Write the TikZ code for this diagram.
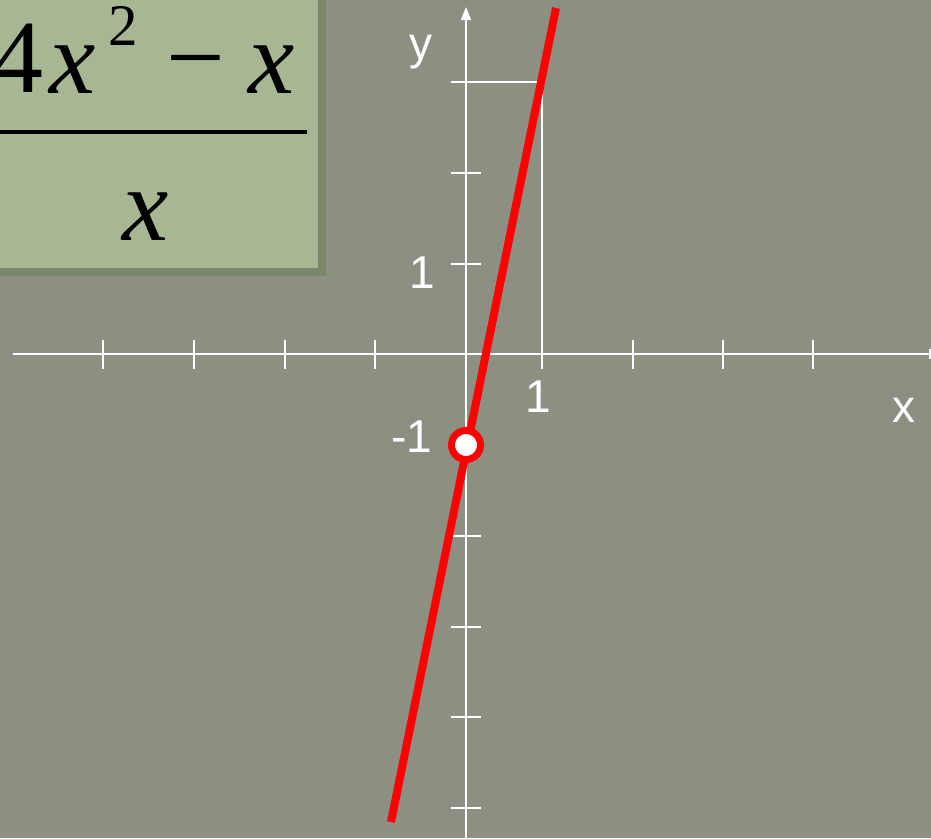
\documentclass[tikz,border=0pt]{standalone}
\usepackage{fontspec}
\setmainfont{Liberation Sans}
\newfontfamily\timesfont{Liberation Serif}
\usetikzlibrary{arrows.meta}
\definecolor{bg}{RGB}{139,144,130}
\definecolor{boxfill}{RGB}{167,183,148}
\definecolor{boxedge}{RGB}{122,135,106}
\begin{document}
\begin{tikzpicture}[x=1pt,y=-1pt,
  axis/.style={white,line width=2pt},
  tickmark/.style={white,line width=2pt},
  lbl/.style={text=white,font=\fontsize{46}{50}\selectfont,inner sep=0pt},
  eq/.style={text=black,inner sep=0pt,font=\timesfont\fontsize{104}{110}\selectfont},
  tip/.style={-{Triangle[length=13pt,width=10pt]}},
  ]
\useasboundingbox (0,0) rectangle (931,838);
\clip (0,0) rectangle (931,838);
\fill[bg] (0,0) rectangle (931,838);
% formula box
\draw[boxedge, fill=boxfill, line width=8pt] (-10,-10) rectangle (322,272);
\node[eq, anchor=base east] (four) at (44,92) {4};
\node[eq, anchor=base] (xa) at (73,93) {\itshape x};
\node[eq, font=\timesfont\fontsize{59}{60}\selectfont, anchor=base] (sq) at (123,45) {2};
\node[eq, anchor=base] (minus) at (196,92) {−};
\node[eq, anchor=base] (xb) at (272,93) {\itshape x};
\coordinate (barl) at (0,132);
\coordinate (barr) at (307,132);
\draw[black, line width=4pt] (barl) -- (barr);
\node[eq, anchor=base] (xd) at (146,240) {\itshape x};
% axes
\coordinate (xl) at (13,354);
\coordinate (xr) at (942,354);
\coordinate (yb) at (466,845);
\coordinate (yt) at (466,7);
\draw[axis,tip] (xl) -- (xr);
\draw[axis,tip] (yb) -- (yt);
\foreach \t in {103,194,285,375,542,633,723,813}
  \draw[tickmark] (\t,340) -- (\t,369);
\foreach \t in {173,264,536,627,717,808}
  \draw[tickmark] (451,\t) -- (481,\t);
\coordinate (ga) at (451,82);
\coordinate (gb) at (542,82);
\coordinate (gc) at (542,354);
\draw[axis] (ga) -- (gb) -- (gc);
% labels
\node[lbl] (ylab) at (421,52) {y};
\node[lbl] (xlab) at (904,410) {x};
\node[lbl] (yone) at (422,273) {1};
\node[lbl] (ymone) at (412,437) {-1};
\node[lbl] (xone) at (538,397) {1};
% graph
\coordinate (la) at (391,822);
\coordinate (lb) at (556,8);
\draw[red, line width=8pt] (la) -- (lb);
\node[circle, draw=red, fill=white, line width=7pt, minimum size=29pt, inner sep=0pt] (hole) at (466,445) {};
\end{tikzpicture}
\end{document}
